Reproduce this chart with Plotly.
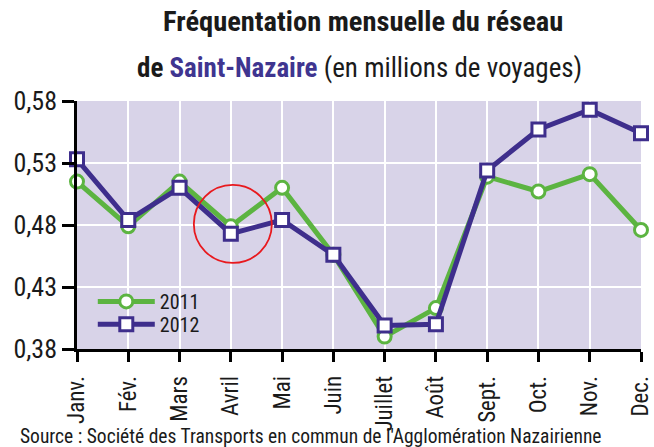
import plotly.graph_objects as go

# Monthly ridership of the Saint-Nazaire network (millions of trips)
months = ["Janv.", "Fév.", "Mars", "Avril", "Mai", "Juin", "Juillet",
          "Août", "Sept.", "Oct.", "Nov.", "Dec."]
riders_2011 = [0.515, 0.479, 0.515, 0.479, 0.510, 0.456, 0.390,
               0.413, 0.519, 0.507, 0.521, 0.476]
riders_2012 = [0.533, 0.484, 0.510, 0.473, 0.484, 0.456, 0.399,
               0.400, 0.524, 0.557, 0.573, 0.554]
y_ticks = [0.38, 0.43, 0.48, 0.53, 0.58]
y_tick_text = ["0,38", "0,43", "0,48", "0,53", "0,58"]

FONT = "Liberation Sans Narrow, Roboto Condensed, Arial Narrow, DejaVu Sans Condensed, sans-serif"
GREEN = "#5cb441"
PURPLE = "#3e2e8c"
BG = "#d8d3e8"

fig = go.Figure()
fig.add_trace(go.Scatter(
    x=months, y=riders_2011, name="2011", mode="lines+markers",
    line=dict(color=GREEN, width=5),
    marker=dict(symbol="circle", size=13, color="white",
                line=dict(color=GREEN, width=3)),
    cliponaxis=False, legend="legend",
))
fig.add_trace(go.Scatter(
    x=months, y=riders_2012, name="2012", mode="lines+markers",
    line=dict(color=PURPLE, width=5),
    marker=dict(symbol="square", size=13, color="white",
                line=dict(color=PURPLE, width=3)),
    cliponaxis=False, legend="legend2",
))

# Red circle highlighting April
avril_mid = (riders_2011[3] + riders_2012[3]) / 2
fig.add_shape(
    type="circle", xref="x", yref="y",
    xsizemode="pixel", ysizemode="pixel",
    xanchor="Avril", yanchor=avril_mid,
    x0=-37, x1=41, y0=-33, y1=45,
    line=dict(color="#e8191e", width=1.8),
)

fig.add_annotation(
    text="<b>Fréquentation mensuelle du réseau</b>",
    xref="paper", yref="paper", x=0.507, y=1.319, yanchor="middle",
    showarrow=False, font=dict(family=FONT, size=28.5, color="#1a1a1a"),
)
fig.add_annotation(
    text="<b>de </b><b><span style='color:#3f3590'>Saint-Nazaire</span></b> (en millions de voyages)",
    xref="paper", yref="paper", x=0.5, y=1.133, yanchor="middle",
    showarrow=False, font=dict(family=FONT, size=27, color="#1a1a1a"),
)
fig.add_annotation(
    text="Source : Société des Transports en commun de l'Agglomération Nazairienne",
    xref="paper", yref="paper", x=-0.104, y=-0.352, xanchor="left", yanchor="middle",
    showarrow=False, font=dict(family=FONT, size=19.5, color="#1a1a1a"),
)

legend_common = dict(x=0.028, xanchor="left", yanchor="middle",
                     bgcolor="rgba(0,0,0,0)", font=dict(size=20, family=FONT),
                     itemwidth=57, borderwidth=0)

fig.update_layout(
    width=654, height=447,
    margin=dict(l=77, r=13, t=101, b=98, autoexpand=False),
    paper_bgcolor="white", plot_bgcolor=BG,
    font=dict(family=FONT, color="#1a1a1a"),
    showlegend=True,
    legend=dict(y=0.192, **legend_common),
    legend2=dict(y=0.1, **legend_common),
    xaxis=dict(
        range=[0, 11], showgrid=True, gridcolor="white", gridwidth=2,
        showline=True, linecolor="black", linewidth=2.5,
        ticks="outside", ticklen=10, tickwidth=2.5, tickcolor="black",
        tickangle=-90, tickfont=dict(size=23, family=FONT),
        ticklabelstandoff=5, zeroline=False, automargin=False,
    ),
    yaxis=dict(
        range=[0.38, 0.58], tickvals=y_ticks, ticktext=y_tick_text,
        showgrid=True, gridcolor="white", gridwidth=2,
        showline=True, linecolor="black", linewidth=2.5,
        ticks="outside", ticklen=12, tickwidth=2.5, tickcolor="black",
        tickfont=dict(size=26, family=FONT), zeroline=False, automargin=False,
    ),
)

fig.write_html("out.html")
